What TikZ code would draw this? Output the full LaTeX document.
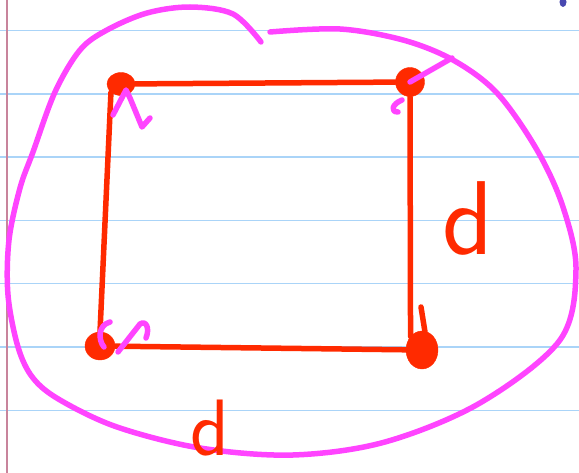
\documentclass[tikz,border=0pt]{standalone}
\usetikzlibrary{arrows.meta, positioning, shapes.geometric}
\definecolor{inkred}{HTML}{FF2A00}
\definecolor{inkpink}{HTML}{FF44FF}
\definecolor{ruleblue}{HTML}{AAD4F8}
\definecolor{marginred}{HTML}{C8849C}
\definecolor{inkblue}{HTML}{4848B0}

\begin{document}
\begin{tikzpicture}[x=1pt, y=-1pt,
  side/.style={inkred, line width=5.5pt, line cap=round},
  corner/.style={ellipse, fill=inkred, draw=inkred, inner sep=0pt},
  pen/.style={inkpink, line width=5.5pt, line cap=round, line join=round},
  lbl/.style={inkred, font=\sffamily\fontsize{80}{80}\selectfont, inner sep=0pt},
]
\useasboundingbox (0,0) rectangle (579,473);

%% ruled paper
\foreach \k in {0,...,6}
  \draw[ruleblue, line width=1.5pt] (0,30.5+63.3*\k) -- (579,30.5+63.3*\k);
\draw[marginred, line width=1.2pt] (7,0) -- (7,473);
\fill[inkblue] (563,2) ellipse (3.5 and 5);

%% loop round the square
\draw[pen] plot[smooth, tension=0.55] coordinates {
  (270,32) (340,29) (403,40) (453,60) (497,93) (537,150) (563,207)
  (576,270) (560,340) (480,403) (385,442) (293,455) (200,448) (117,427)
  (60,400) (33,378) (18,347) (8,295) (9,240) (20,188) (33,152) (55,92)
  (80,50) (107,30) (147,13) (190,7) (233,14) (261,42)};

%% corners
\node[corner, minimum width=28pt, minimum height=23pt] (ctl) at (121,84) {};
\node[corner, minimum width=29pt, minimum height=29pt] (ctr) at (410,82) {};
\node[corner, minimum width=30pt, minimum height=28pt] (cbl) at (100,346) {};
\node[corner, minimum width=32pt, minimum height=38pt] (cbr) at (422,350) {};

%% sides
\draw[side] (ctl) -- (ctr);
\draw[side] (ctl.south west) -- (cbl.north);
\draw[side] (ctr.south) -- (cbr.north west);
\draw[side] (cbl) -- (cbr);
\draw[side] (421,307) -- (425,332);

%% marks at the corners
\draw[pen] (113,115) -- (126,90) -- (130,98) -- (142,127) -- (150,118);
\draw[pen] (ctr.center) -- (452,58);
\draw[pen] (402,100) .. controls (392,104) and (390,112) .. (398,112);
\draw[pen] (118,352) -- (140,324) .. controls (146,320) and (150,328) .. (146,338);
\draw[pen] (110,322) .. controls (98,325) and (98,340) .. (104,347);

%% labels
\node[lbl] (lblbottom) at (210,428) {d};
\node[lbl, font=\sffamily\fontsize{105}{105}\selectfont] (lblright) at (468,218) {d};

\end{tikzpicture}
\end{document}
